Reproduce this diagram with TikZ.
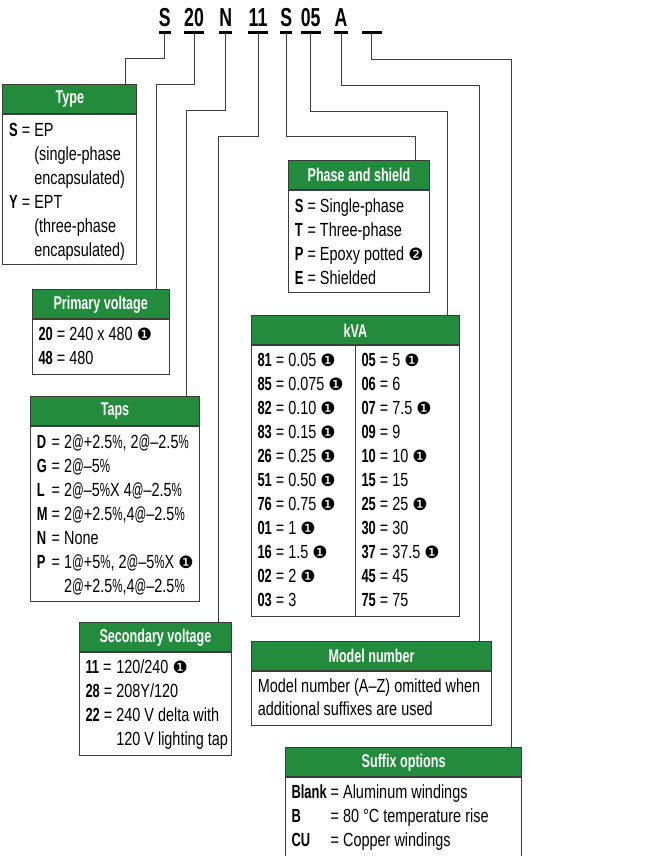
\documentclass[tikz,border=0pt]{standalone}
\usepackage{graphicx}
\usepackage{fontspec}
\setmainfont{Liberation Sans}[FakeStretch=0.76,BoldFeatures={FakeStretch=0.68}]
\newfontfamily\dejavu{DejaVu Sans}
\newcommand{\noteA}{{\dejavu\fontsize{17}{17}\selectfont ❶}}
\newcommand{\noteB}{{\dejavu\fontsize{17}{17}\selectfont ❷}}
\newcommand{\at}{\scalebox{0.8}[1]{@}}
\newcommand{\pct}{\scalebox{0.8}[1]{\%}}
\definecolor{hdgreen}{RGB}{34,139,60}
\definecolor{rulegray}{RGB}{60,60,60}
\tikzset{
  wire/.style={draw=rulegray, line width=1pt},
  head/.style={draw=rulegray, line width=1pt, fill=hdgreen, text=white, inner sep=0,
    font=\fontsize{18.5}{20}\selectfont\bfseries, minimum height=29, anchor=north west},
  body/.style={draw=rulegray, line width=1pt, inner sep=0, anchor=north west},
  txt/.style={inner sep=0, anchor=base west, font=\fontsize{19}{24}\selectfont},
  code/.style={inner sep=0, anchor=base, font=\fontsize{26}{26}\selectfont\bfseries},
  uline/.style={line width=2.6pt, draw=black}
}
\begin{document}
\begin{tikzpicture}[x=1pt,y=-1pt]
    \useasboundingbox (0,0) rectangle (649,856);

    % model code
    \node[code] (kS) at (164.7,27) {S};
    \node[code] (k20) at (194,27) {20};
    \node[code] (kN) at (225.7,27) {N};
    \node[code] (k11) at (258,27) {11};
    \node[code] (kS2) at (286.3,27) {S};
    \node[code] (k05) at (310.7,27) {05};
    \node[code] (kA) at (341,27) {A};
    \node[code] (kX) at (371.7,27) {\phantom{00}};
    \foreach \k in {kS,k20,kN,k11,kS2,k05,kA,kX}
        \draw[uline] ([yshift=-5.7pt]\k.base west) -- ([yshift=-5.7pt]\k.base east);

    % boxes
    \node[head, minimum width=134] (typeH) at (2.3,83.7) {Type};
    \node[body, minimum width=134, minimum height=150.6] (typeB) at (typeH.south west) {};
    \node[txt] (typeT) at (9,136) {\begin{tabular}[t]{@{}l@{\ }l@{}}
        \textbf{S} = & EP\\ & (single-phase\\ & encapsulated)\\
        \textbf{Y} = & EPT\\ & (three-phase\\ & encapsulated)\end{tabular}};

    \node[head, minimum width=141] (phaseH) at (288,159.7) {Phase and shield};
    \node[body, minimum width=141, minimum height=102.3] (phaseB) at (phaseH.south west) {};
    \node[txt] (phaseT) at (294.7,212) {\begin{tabular}[t]{@{}l@{\ }l@{}}
        \textbf{S} & = Single-phase\\ \textbf{T} & = Three-phase\\
        \textbf{P} & = Epoxy potted \noteB\\ \textbf{E} & = Shielded\end{tabular}};

    \node[head, minimum width=137] (primH) at (31.7,289.3) {Primary voltage};
    \node[body, minimum width=137, minimum height=54.4] (primB) at (primH.south west) {};
    \node[txt] (primT) at (38.3,340) {\begin{tabular}[t]{@{}l@{\ }l@{}}
        \textbf{20} & = 240 x 480 \noteA\\ \textbf{48} & = 480\end{tabular}};

    \node[head, minimum width=169] (tapsH) at (30,396.3) {Taps};
    \node[body, minimum width=169, minimum height=174.4] (tapsB) at (tapsH.south west) {};
    \node[txt] (tapsT) at (36.7,448) {\begin{tabular}[t]{@{}l@{\ }l@{}}
        \textbf{D} & = 2\at+2.5\pct, 2\at–2.5\pct\\ \textbf{G} & = 2\at–5\pct\\
        \textbf{L} & = 2\at–5\pct X 4\at–2.5\pct\\ \textbf{M} & = 2\at+2.5\pct,4\at–2.5\pct\\
        \textbf{N} & = None\\ \textbf{P} & = 1\at+5\pct, 2\at–5\pct X \noteA\\
        & \hphantom{= }2\at+2.5\pct,4\at–2.5\pct\end{tabular}};

    \node[head, minimum width=208.6] (kvaH) at (250.7,315.3) {kVA};
    \node[body, minimum width=208.6, minimum height=270.7] (kvaB) at (kvaH.south west) {};
    \draw[wire] (355.3,0 |- kvaB.north) -- (355.3,0 |- kvaB.south);
    \node[txt] (kvaL) at (257.3,366.7) {\begin{tabular}[t]{@{}l@{}}
        \textbf{81} = 0.05 \noteA\\ \textbf{85} = 0.075 \noteA\\
        \textbf{82} = 0.10 \noteA\\ \textbf{83} = 0.15 \noteA\\
        \textbf{26} = 0.25 \noteA\\ \textbf{51} = 0.50 \noteA\\
        \textbf{76} = 0.75 \noteA\\ \textbf{01} = 1 \noteA\\
        \textbf{16} = 1.5 \noteA\\ \textbf{02} = 2 \noteA\\
        \textbf{03} = 3\end{tabular}};
    \node[txt] (kvaR) at (361.3,366.7) {\begin{tabular}[t]{@{}l@{}}
        \textbf{05} = 5 \noteA\\ \textbf{06} = 6\\
        \textbf{07} = 7.5 \noteA\\ \textbf{09} = 9\\
        \textbf{10} = 10 \noteA\\ \textbf{15} = 15\\
        \textbf{25} = 25 \noteA\\ \textbf{30} = 30\\
        \textbf{37} = 37.5 \noteA\\ \textbf{45} = 45\\
        \textbf{75} = 75\end{tabular}};

    \node[head, minimum width=152.6] (secH) at (78.7,622.3) {Secondary voltage};
    \node[body, minimum width=152.6, minimum height=102.7] (secB) at (secH.south west) {};
    \node[txt] (secT) at (85.3,673.3) {\begin{tabular}[t]{@{}l@{\ }l@{}}
        \textbf{11} = & 120/240 \noteA\\ \textbf{28} = & 208Y/120\\
        \textbf{22} = & 240 V delta with\\ & 120 V lighting tap\end{tabular}};

    \node[head, minimum width=240.6] (modH) at (250.7,640.7) {Model number};
    \node[body, minimum width=240.6, minimum height=54.3] (modB) at (modH.south west) {};
    \node[txt, font=\fontsize{19}{23.5}\selectfont] (modT) at (257.7,692) {\begin{tabular}[t]{@{}l@{}}
        Model number (A–Z) omitted when\\ additional suffixes are used\end{tabular}};

    \node[head, minimum width=236.3] (sufH) at (285,747.3) {Suffix options};
    \node[body, minimum width=236.3, minimum height=79] (sufB) at (sufH.south west) {};
    \node[txt] (sufT) at (291.3,798.3) {\begin{tabular}[t]{@{}l@{\ }l@{}}
        \textbf{Blank} & = Aluminum windings\\ \textbf{B} & = 80 °C temperature rise\\
        \textbf{CU} & = Copper windings\end{tabular}};

    % connectors
    \coordinate (jType) at (125,58.3);
    \coordinate (jPrim) at (156.7,85);
    \coordinate (jTaps) at (186.3,110.7);
    \coordinate (jSec) at (218.7,136);
    \coordinate (jPhase) at (415,136);
    \coordinate (jKva) at (447,111.3);
    \coordinate (jMod) at (479.3,85.3);
    \coordinate (jSuf) at (511.7,60);
    \draw[wire] ([yshift=-5.7pt]kS.base) |- (jType) -- (jType |- typeH.north);
    \draw[wire] ([yshift=-5.7pt]k20.base) |- (jPrim) -- (jPrim |- primH.north);
    \draw[wire] ([yshift=-5.7pt]kN.base) |- (jTaps) -- (jTaps |- tapsH.north);
    \draw[wire] ([yshift=-5.7pt]k11.base) |- (jSec) -- (jSec |- secH.north);
    \draw[wire] ([yshift=-5.7pt]kS2.base) |- (jPhase) -- (jPhase |- phaseH.north);
    \draw[wire] ([yshift=-5.7pt]k05.base) |- (jKva) -- (jKva |- kvaH.north);
    \draw[wire] ([yshift=-5.7pt]kA.base) |- (jMod) -- (jMod |- modH.north);
    \draw[wire] ([yshift=-5.7pt]kX.base) |- (jSuf) -- (jSuf |- sufH.north);

\end{tikzpicture}
\end{document}
